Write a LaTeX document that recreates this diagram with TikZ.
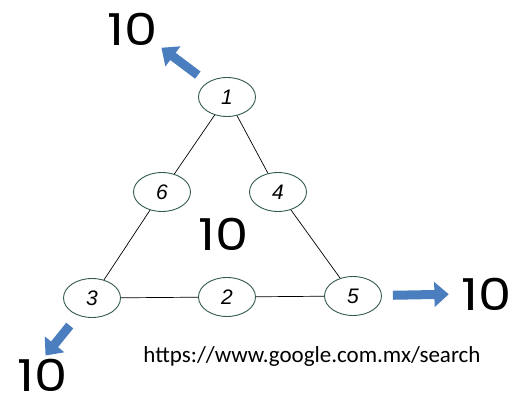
\documentclass[tikz,border=0pt]{standalone}
\usepackage{fontspec}
\setmainfont{Poppins}
\newfontfamily\sumfont[FakeStretch=1.2]{Poppins}
\newfontfamily\urlfont{Carlito}
\newfontfamily\handfont{Liberation Sans}
\usepackage{tikz}
\definecolor{nodegreen}{RGB}{52,90,80}
\definecolor{arrowblue}{RGB}{74,126,190}
\usetikzlibrary{arrows.meta,positioning,shapes.geometric}

\begin{document}
\begin{tikzpicture}[x=1pt, y=-1pt,
  vx/.style={ellipse, draw=nodegreen, line width=0.9pt, fill=white, minimum width=57pt, minimum height=39pt, inner sep=0pt, font=\handfont\itshape\fontsize{21}{21}\selectfont},
  big/.style={font=\sumfont\fontsize{44}{44}\selectfont, inner sep=0pt},
  sumarrow/.style={draw=arrowblue, line width=9pt, -{Triangle[length=0pt 1.6, width=0pt 2.7]}}]
\useasboundingbox (0,0) rectangle (518,398);
% Vertices
\node[vx] (v1) at (227,97) {1};
\node[vx] (v6) at (162,192) {6};
\node[vx] (v4) at (278,192) {4};
\node[vx] (v3) at (92,298) {3};
\node[vx] (v2) at (227,297) {2};
\node[vx] (v5) at (353,296) {5};
% Edges
\draw[line width=0.7pt] (v1) -- (v6) (v6) -- (v3) (v3) -- (v2);
\draw[line width=0.7pt] (v1) -- (v4) (v4) -- (v5) (v5) -- (v2);
% Sums
\node[big] (s1) at (133,29) {10};
\node[big] (s0) at (224,234) {10};
\node[big] (s5) at (487,294) {10};
\node[big] (s3) at (43,375) {10};
% Arrows
\draw[sumarrow, shorten <=12pt, shorten >=4pt] (v1) -- (s1.south east);
\draw[sumarrow, shorten <=11pt, shorten >=13pt] (v5) -- (s5.west);
\draw[sumarrow, shorten <=13pt, shorten >=4pt] (v3) -- (s3.north);
% Source
\node[font=\urlfont\fontsize{23}{23}\selectfont] (src) at (312,356) {https://www.google.com.mx/search};
\end{tikzpicture}
\end{document}
